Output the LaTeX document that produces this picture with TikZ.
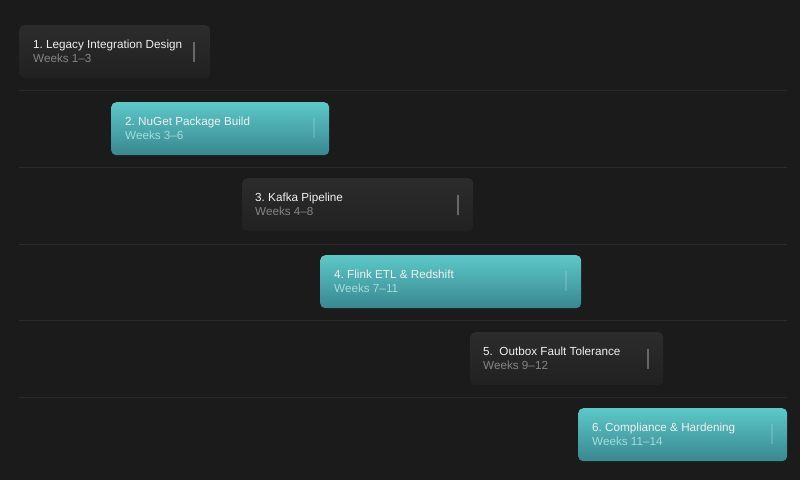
\documentclass[tikz,border=0pt]{standalone}
\usepackage{fontspec}
\setmainfont{Liberation Sans}
\usetikzlibrary{calc}
\definecolor{bgdark}{HTML}{1B1B1B}
\definecolor{rowline}{HTML}{2B2B2B}
\definecolor{darktop}{HTML}{2C2C2C}
\definecolor{darkbot}{HTML}{212121}
\definecolor{tealtop}{HTML}{5CC8C8}
\definecolor{tealbot}{HTML}{398790}
\definecolor{subgray}{HTML}{858585}
\definecolor{subteal}{HTML}{A0DEDE}
\tikzset{
  darkbar/.style={rectangle,rounded corners=5pt,inner sep=0pt,anchor=north west,
    minimum height=53pt,top color=darktop,bottom color=darkbot},
  tealbar/.style={rectangle,rounded corners=5pt,inner sep=0pt,anchor=north west,
    minimum height=53pt,top color=tealtop,bottom color=tealbot},
  title/.style={anchor=base west,inner sep=0pt,text=white!94!black,
    font=\fontsize{11.7}{14}\selectfont},
  sub/.style={anchor=base west,inner sep=0pt,text=subgray,
    font=\fontsize{11.7}{14}\selectfont},
  handle/.style={line width=2pt,draw=white,draw opacity=0.3},
}
\frenchspacing
\begin{document}
\begin{tikzpicture}[x=1pt,y=-1pt]
                    \fill[bgdark] (0,0) rectangle (800,480);
                    \useasboundingbox (0,0) rectangle (800,480);
                    % row separators
                    \foreach \y in {90.5,167,244,320.5,397}
                        \draw[rowline,line width=1pt] (19,\y) -- (787,\y);
                    % bars
                    \node[darkbar,minimum width=191pt] (b1) at (19,25) {};
                    \node[tealbar,minimum width=218pt] (b2) at (111,102) {};
                    \node[darkbar,minimum width=231pt] (b3) at (242,178) {};
                    \node[tealbar,minimum width=261pt] (b4) at (320,255) {};
                    \node[darkbar,minimum width=193pt] (b5) at (470,332) {};
                    \node[tealbar,minimum width=209pt] (b6) at (578,408) {};
                    % labels
                    \node[title] (t1) at ($(b1.north west)+(14,23)$) {1. Legacy Integration Design};
                    \node[sub] (s1) at ($(b1.north west)+(14,37)$) {Weeks 1–3};
                    \node[title] (t2) at ($(b2.north west)+(14,23)$) {2. NuGet Package Build};
                    \node[sub,text=subteal] (s2) at ($(b2.north west)+(14,37)$) {Weeks 3–6};
                    \node[title] (t3) at ($(b3.north west)+(13,23)$) {3. Kafka Pipeline};
                    \node[sub] (s3) at ($(b3.north west)+(13,37)$) {Weeks 4–8};
                    \node[title] (t4) at ($(b4.north west)+(14,23)$) {4. Flink ETL \& Redshift};
                    \node[sub,text=subteal] (s4) at ($(b4.north west)+(14,37)$) {Weeks 7–11};
                    \node[title] (t5) at ($(b5.north west)+(13,23)$) {5.\ \ Outbox Fault Tolerance};
                    \node[sub] (s5) at ($(b5.north west)+(13,37)$) {Weeks 9–12};
                    \node[title] (t6) at ($(b6.north west)+(14,23)$) {6. Compliance \& Hardening};
                    \node[sub,text=subteal] (s6) at ($(b6.north west)+(14,37)$) {Weeks 11–14};
                    % drag handles
                    \draw[handle] ($(b1.north east)+(-16,17)$) -- ++(0,20);
                    \draw[handle,draw opacity=0.15] ($(b2.north east)+(-15,16)$) -- ++(0,20);
                    \draw[handle] ($(b3.north east)+(-15,17)$) -- ++(0,20);
                    \draw[handle,draw opacity=0.15] ($(b4.north east)+(-15,16)$) -- ++(0,20);
                    \draw[handle] ($(b5.north east)+(-15,17)$) -- ++(0,20);
                    \draw[handle,draw opacity=0.15] ($(b6.north east)+(-15,16)$) -- ++(0,20);
                \end{tikzpicture}
\end{document}
